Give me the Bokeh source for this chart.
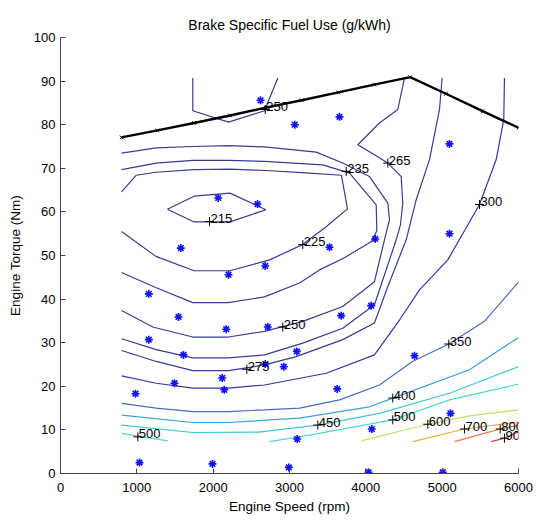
from bokeh.plotting import figure
from bokeh.models import Range1d, FixedTicker
from bokeh.embed import file_html
from bokeh.resources import INLINE
from bokeh.core.properties import value

FONT = "Liberation Sans"

# ---------------- data ----------------
x_ticks = [0, 1000, 2000, 3000, 4000, 5000, 6000]
y_ticks = [0, 10, 20, 30, 40, 50, 60, 70, 80, 90, 100]

# maximum torque curve (rpm, Nm)
max_rpm = [800, 1270, 1750, 2220, 2690, 3160, 3640, 4110, 4580, 5050, 5530, 6000]
max_tq = [77.1, 78.7, 80.4, 82.1, 83.9, 85.6, 87.4, 89.2, 90.9, 87.1, 83.1, 79.3]

# measured operating points
pt_rpm = [2620, 3069, 2066, 2581, 1576, 3655, 5096, 5096, 3524, 4123,
          2682, 2201, 1157, 1546, 2171, 2716, 3096, 1157, 1611, 2682,
          2925, 2118, 1493, 2145, 983, 3101, 1035, 1991, 2991, 4070,
          3677, 4638, 3625, 5109, 4078, 4035, 5008]
pt_tq = [85.6, 80.0, 63.2, 61.8, 51.7, 81.8, 75.6, 55.0, 51.9, 53.8,
         47.6, 45.6, 41.2, 35.9, 33.1, 33.6, 28.0, 30.7, 27.2, 25.1,
         24.5, 21.9, 20.7, 19.2, 18.3, 7.9, 2.5, 2.2, 1.4, 38.5,
         36.2, 27.0, 19.4, 13.8, 10.2, 0.3, 0.3]

# contour lines (rpm, Nm) per BSFC level
c215_x = [1400, 1750, 2220, 2690, 2220, 1750, 1400]
c215_y = [60.6, 63.6, 64.3, 60.5, 57.7, 57.7, 60.6]

c225_x = [800, 990, 1250, 1750, 2220, 2690, 3160, 3680, 3760, 3460, 3170, 2740, 2220, 1750, 1250, 800]
c225_y = [64.6, 68.4, 69.1, 69.7, 69.8, 69.5, 69.0, 68.4, 60.7, 56.3, 52.5, 49.0, 46.5, 46.5, 49.8, 55.5]

c235_x = [800, 1254, 1733, 2201, 2672, 3436, 3786, 4136, 4144, 4074, 3720, 3393, 3131, 2672, 2201, 1733, 1254, 800]
c235_y = [69.7, 71.2, 71.8, 71.8, 71.6, 70.8, 68.9, 61.6, 55.7, 53.2, 49.5, 46.7, 43.7, 40.5, 39.2, 39.2, 42.6, 46.1]

c250_x = [800, 1254, 1733, 2201, 2672, 3350, 3698, 4048, 4288, 4310, 4244, 4113, 3698, 3174, 2672, 2201, 1733, 1209, 800]
c250_y = [73.5, 74.7, 75.0, 75.2, 74.9, 73.7, 71.2, 68.1, 62.0, 58.2, 53.6, 44.0, 38.3, 34.9, 32.6, 31.3, 31.3, 33.6, 37.4]

c250b_x = [1733, 1733, 2201, 2672, 2847]
c250b_y = [90.7, 83.2, 80.6, 83.2, 90.7]

c265_x = [4506, 4419, 4179, 3895, 4113, 4288, 4463, 4484, 4454, 4398, 4113, 3698, 3174, 2672, 2201, 1733, 1254, 800]
c265_y = [90.7, 83.5, 80.4, 75.4, 73.1, 71.2, 68.1, 62.0, 57.1, 53.6, 38.7, 33.3, 29.9, 27.2, 26.5, 26.5, 28.4, 30.9]

c275_x = [5000, 4965, 4834, 4660, 4529, 4288, 4113, 3698, 3088, 2672, 2201, 1733, 1254, 800]
c275_y = [90.7, 83.5, 72.0, 62.8, 53.6, 42.9, 34.5, 30.7, 26.8, 24.9, 23.6, 23.6, 25.7, 28.2]

c300_x = [5816, 5807, 5708, 5489, 5074, 4703, 4441, 4113, 3481, 2672, 2201, 1733, 1254, 800]
c300_y = [90.7, 81.2, 72.0, 61.7, 49.0, 42.1, 35.2, 27.2, 23.0, 20.3, 19.6, 19.6, 20.7, 22.4]

c350_x = [800, 1254, 1733, 2201, 2672, 3131, 3655, 4179, 4611, 5087, 5554, 6000]
c350_y = [16.1, 15.0, 14.2, 14.2, 14.6, 15.0, 16.9, 20.3, 25.7, 29.7, 34.9, 43.9]

c400_x = [800, 1733, 2201, 3131, 4048, 4353, 5358, 6000]
c400_y = [13.4, 11.7, 11.7, 12.7, 15.3, 17.3, 23.8, 31.2]

c450_x = [800, 1733, 2600, 3371, 4179, 5096, 6000]
c450_y = [11.1, 9.4, 9.5, 11.1, 13.8, 18.4, 24.5]

c500a_x = [800, 1406]
c500a_y = [9.2, 7.5]
c500b_x = [2738, 3262, 4353, 5096, 6000]
c500b_y = [7.3, 8.8, 12.3, 16.9, 20.5]

c600_x = [3940, 4812, 5358, 6000]
c600_y = [7.5, 11.3, 13.2, 14.6]

c700_x = [4615, 5292, 6000]
c700_y = [7.3, 10.2, 11.8]

c800_x = [5161, 5760, 6000]
c800_y = [7.3, 10.2, 11.1]

c900_x = [5642, 5816, 6000]
c900_y = [7.3, 8.1, 9.6]

# contour labels
lab_text = ["250", "235", "265", "215", "225", "300", "250", "275", "350",
            "400", "450", "500", "500", "600", "700", "800", "900"]
lab_x = [2682, 3743, 4288, 1952, 3174, 5489, 2912, 2441, 5087,
         4353, 3371, 1013, 4353, 4812, 5292, 5760, 5816]
lab_y = [83.5, 69.3, 71.2, 57.8, 52.5, 61.7, 33.6, 23.9, 29.7,
         17.3, 11.1, 8.4, 12.3, 11.3, 10.2, 10.2, 8.1]

# ---------------- styles ----------------
DARK = "#3a3a94"
contours = [
    (c215_x, c215_y, DARK),
    (c225_x, c225_y, DARK),
    (c235_x, c235_y, DARK),
    (c250_x, c250_y, DARK),
    (c250b_x, c250b_y, DARK),
    (c265_x, c265_y, DARK),
    (c275_x, c275_y, DARK),
    (c300_x, c300_y, "#3434a8"),
    (c350_x, c350_y, "#4a6cc0"),
    (c400_x, c400_y, "#3aa0d8"),
    (c450_x, c450_y, "#40c4d8"),
    (c500a_x, c500a_y, "#50d8d0"),
    (c500b_x, c500b_y, "#50d8d0"),
    (c600_x, c600_y, "#c8e060"),
    (c700_x, c700_y, "#eab040"),
    (c800_x, c800_y, "#f07040"),
    (c900_x, c900_y, "#d04040"),
]

p = figure(frame_width=458, frame_height=436,
           x_range=Range1d(0, 6000), y_range=Range1d(0, 100),
           output_backend="svg", toolbar_location=None,
           min_border_left=60, min_border_right=15,
           min_border_top=37, min_border_bottom=44)

p.title.text = "Brake Specific Fuel Use (g/kWh)"
p.title.align = "center"
p.title.text_font = FONT
p.title.text_font_size = "14px"
p.title.text_font_style = "normal"
p.title.text_color = "black"
p.title.standoff = 9

p.outline_line_color = None
p.xgrid.visible = False
p.ygrid.visible = False

p.xaxis.ticker = FixedTicker(ticks=x_ticks)
p.yaxis.ticker = FixedTicker(ticks=y_ticks)
for ax in (p.xaxis, p.yaxis):
    ax.major_tick_in = 5
    ax.major_tick_out = 0
    ax.minor_tick_line_color = None
    ax.axis_line_color = "#444444"
    ax.major_tick_line_color = "#444444"
    ax.major_label_text_font = FONT
    ax.major_label_text_font_size = "13px"
    ax.major_label_text_color = "black"
    ax.axis_label_text_font = FONT
    ax.axis_label_text_font_size = "13.5px"
    ax.axis_label_text_font_style = "normal"
    ax.axis_label_text_color = "black"

p.xaxis.axis_label = "Engine Speed (rpm)"
p.yaxis.axis_label = "Engine Torque (Nm)"
p.xaxis.major_label_standoff = 9
p.xaxis.axis_label_standoff = 4
p.yaxis.major_label_standoff = 5
p.yaxis.axis_label_standoff = 8

for cx, cy, col in contours:
    p.line(cx, cy, line_color=col, line_width=1.2)

p.line(max_rpm, max_tq, line_color="black", line_width=2.4)
p.scatter(max_rpm, max_tq, marker="x", size=5, line_color="black", line_width=1)

p.scatter(pt_rpm, pt_tq, marker="asterisk", size=8, line_color="#1010ff", line_width=1.6)

p.scatter(lab_x, lab_y, marker="cross", size=9, line_color="black", line_width=1)
p.text(x=lab_x, y=lab_y, text=lab_text, x_offset=1, y_offset=-3,
       text_font=value(FONT), text_font_size="13px", text_color="black",
       text_align="left", text_baseline="alphabetic")

open("out.html", "w").write(file_html(p, INLINE))
